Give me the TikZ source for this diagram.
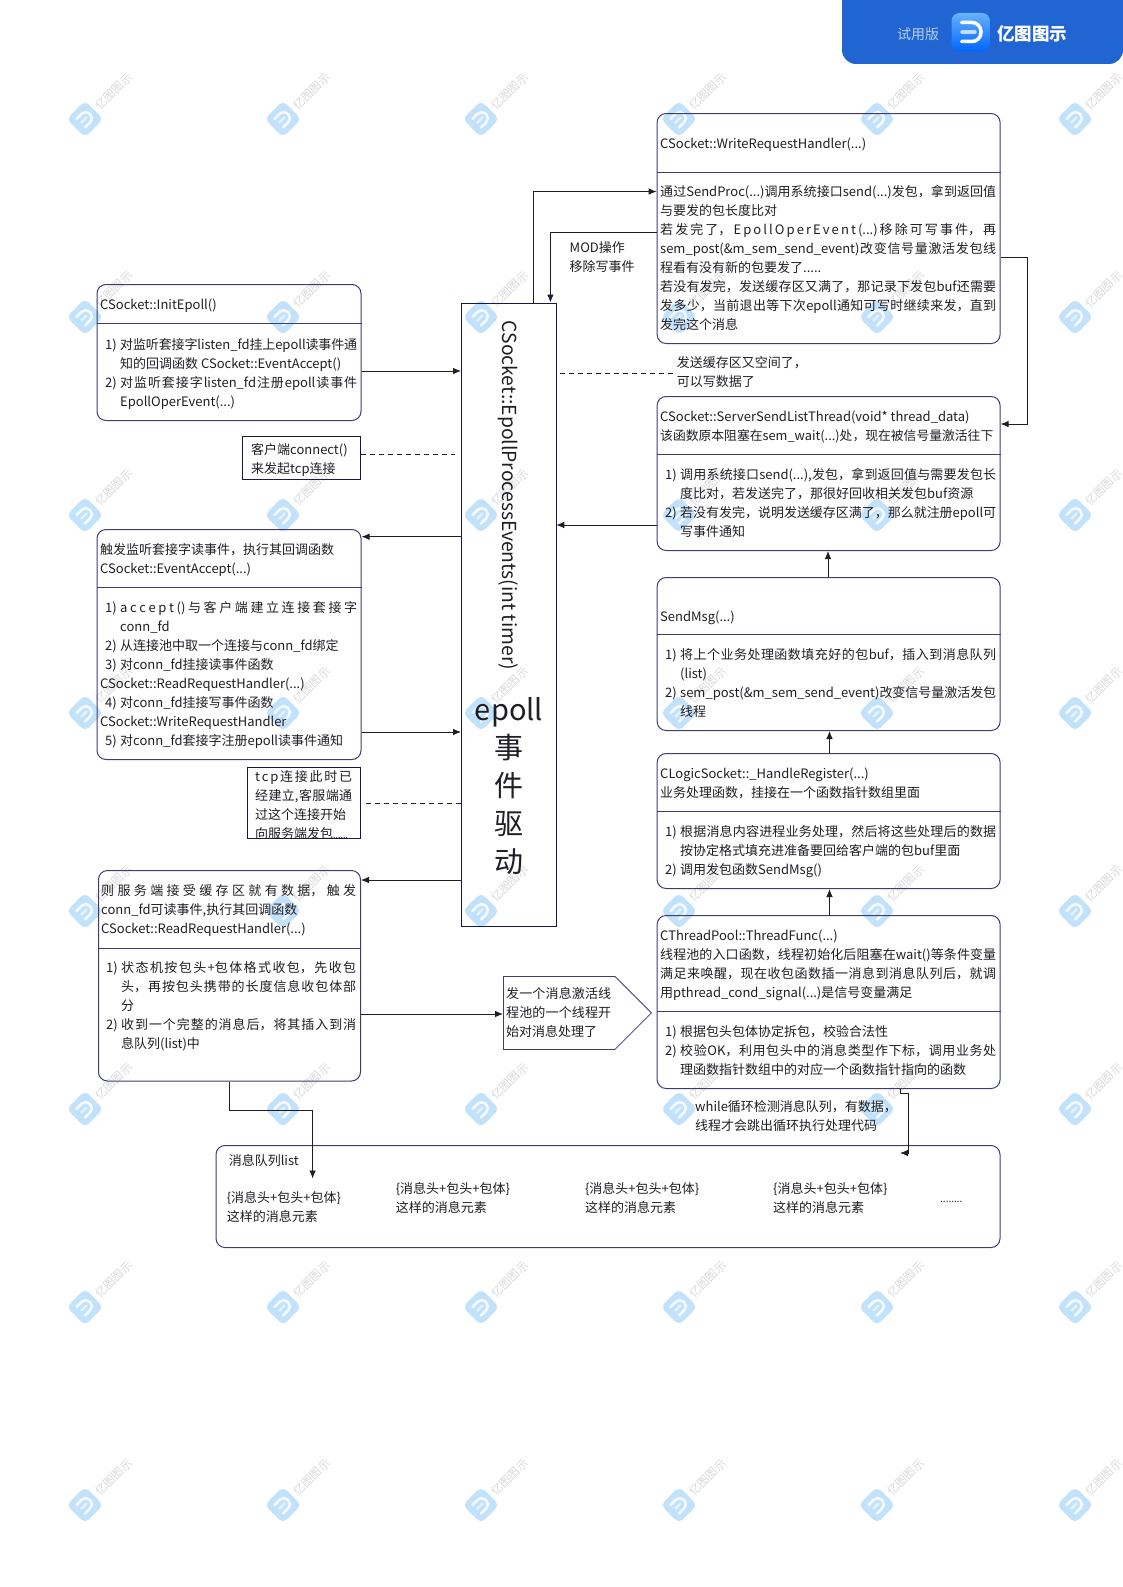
\documentclass[tikz,border=0pt]{standalone}
\usepackage{fontspec}
\usepackage{xcolor}
\setmainfont{Noto Sans CJK SC}
\usetikzlibrary{arrows.meta, shapes.symbols}
\XeTeXlinebreaklocale "zh"
\XeTeXlinebreakskip=0pt plus 1pt minus .3pt
\definecolor{ink}{HTML}{1E1E24}
\definecolor{cardline}{HTML}{3C3F6E}
\definecolor{boxline}{HTML}{14184E}
\definecolor{bannerblue}{HTML}{2065D1}
\definecolor{trialblue}{HTML}{B9CFF3}
\definecolor{markblue}{HTML}{42A5F5}
\definecolor{markgray}{HTML}{B8B8B8}
\newcommand{\cardfont}{\fontsize{13}{19}\selectfont\parindent=0pt\hyphenpenalty=10000\tolerance=10000\hbadness=10000}
\newcommand{\itm}[1]{\par\noindent\hangindent=20pt\hangafter=1\rule{0pt}{12pt}\hbox to 20pt{\hspace*{5pt}#1\hfil}\ignorespaces}
\newcommand{\ptx}{\par\noindent\rule{0pt}{12pt}\ignorespaces}
\newcommand{\gp}{\hskip 0pt plus 1pt\relax}

\begin{document}
\begin{tikzpicture}[x=1pt,y=-1pt]
\tikzstyle{card}=[draw=cardline, rounded corners=9pt, line width=1pt, anchor=north west, inner sep=0pt]
\tikzstyle{plainbox}=[draw=boxline, line width=.8pt, anchor=north west, inner sep=0pt]
\tikzstyle{wide}=[anchor=north west, yshift=7pt, inner sep=0pt, text=ink, text width=336pt, align=justify, font=\cardfont]
\tikzstyle{narrow}=[wide, text width=257pt]
\tikzstyle{divider}=[draw=cardline, line width=1pt]
\tikzstyle{flow}=[draw=ink, line width=.8pt, -{Latex[length=8pt,width=6.5pt]}]
\tikzstyle{dashline}=[draw=ink, line width=.8pt, dash pattern=on 5pt off 4pt]
\useasboundingbox (0,0) rectangle (1123,1587);

% watermark
\foreach \mx in {85,283,481,679,877,1075}
  \foreach \my in {119,317,515,713,911,1109,1307,1505}
  {
  \begin{scope}[shift={(\mx,\my)}]
  \fill[markblue, opacity=.32, rotate=45, rounded corners=6pt] (-13,-13) rectangle (13,13);
  \draw[white, opacity=.8, line width=2.6pt, rotate=45, rounded corners=5.5pt, line cap=round] (-6,-6) -- (7,-6) -- (7,6) -- (-6,6);
  \draw[white, opacity=.6, line width=2.4pt, rotate=45, line cap=round] (-5,0) -- (2,0);
  \node[rotate=45, text=markgray, opacity=.55, inner sep=0pt, font=\fontsize{11.5}{14}\selectfont] (wm-\mx-\my) at (28.8,-27.5) {亿图图示};
  \end{scope}
  }

% banner
\fill[bannerblue] (842,0) [rounded corners=14pt] -- (842,64) -- (1123,64) [sharp corners] -- (1123,0) -- cycle;
\shade[top color=blue!50!cyan!60!white, bottom color=blue!60!cyan, rounded corners=8pt] (951.5,13) rectangle (990,51);
\draw[white, line width=3.5pt, rounded corners=9pt, line cap=round] (961.5,22.5) -- (981,22.5) -- (981,41.5) -- (961.5,41.5);
\draw[white, opacity=.7, line width=3.5pt, line cap=round] (962,32) -- (975,32);
\node[text=trialblue, font=\fontsize{14}{16}\selectfont] (trial) at (918,34) {试用版};
\node[anchor=west, inner sep=0pt, text=white, font=\bfseries\fontsize{17.5}{20}\selectfont] (brand) at (997,34) {亿图图示};

% left column
\node[card, minimum width=264pt, minimum height=136pt] (initbox) at (96.5,284) {};
\draw[divider] (initbox.west |- 0,323) -- (initbox.east |- 0,323);
\node[narrow] (inittitle) at (100,297) {\ptx CSocket::InitEpoll()};
\node[narrow] (initbody) at (100,337) {\itm{1)}对监听套接字listen\_fd挂上epoll读事件通\linebreak 知的回调函数 CSocket::EventAccept()
\itm{2)}对监听套接字listen\_fd注册epoll读事件\linebreak EpollOperEvent(...)\par};

\node[plainbox, minimum width=118pt, minimum height=43pt] (clientbox) at (242,436) {};
\node[wide, text width=105pt] (clienttext) at (251,442) {\ptx 客户端connect()\ptx 来发起tcp连接};

\node[card, minimum width=264pt, minimum height=230pt] (acceptbox) at (96.5,529) {};
\draw[divider] (acceptbox.west |- 0,587) -- (acceptbox.east |- 0,587);
\node[narrow] (accepttitle) at (100,542) {\ptx 触发监听套接字读事件，执行其回调函数\ptx CSocket::EventAccept(...)};
\node[narrow] (acceptbody) at (100,600) {\itm{1)}a\gp c\gp c\gp e\gp p\gp t\gp ()与客户端建立连接套接字\linebreak conn\_fd
\itm{2)}从连接池中取一个连接与conn\_fd绑定
\itm{3)}对conn\_fd挂接读事件函数
\ptx CSocket::ReadRequestHandler(...)
\itm{4)}对conn\_fd挂接写事件函数
\ptx CSocket::WriteRequestHandler
\itm{5)}对conn\_fd套接字注册epoll读事件通知\par};

\node[plainbox, minimum width=113pt, minimum height=71pt] (tcpbox) at (247,767) {};
\node[wide, text width=97pt] (tcptext) at (255,769) {\ptx t\gp c\gp p\gp 连接此时已\linebreak 经建立,客服端通\linebreak 过这个连接开始\ptx\mbox{向服务端发包\fontsize{9}{19}\selectfont......}};

\node[card, minimum width=262pt, minimum height=210.5pt] (readbox) at (98,870) {};
\draw[divider] (readbox.west |- 0,948) -- (readbox.east |- 0,948);
\node[narrow, text width=255pt] (readtitle) at (101,883) {\ptx 则服务端接受缓存区就有数据，触发\linebreak conn\_fd可读事件,执行其回调函数\ptx CSocket::ReadRequestHandler(...)};
\node[narrow, text width=255pt] (readbody) at (101,960) {\itm{1)}状态机按包头+包体格式收包，先收包\linebreak 头，再按包头携带的长度信息收包体部\linebreak 分
\itm{2)}收到一个完整的消息后，将其插入到消\linebreak 息队列(list)中\par};

% epoll column
\node[plainbox, minimum width=94.5pt, minimum height=623.5pt] (epollbox) at (461,302.5) {};
\node[rotate=-90, text=ink, inner sep=0pt, font=\fontsize{19.3}{22}\selectfont] (eventname) at (508,495.5) {CSocket::EpollProcessEvents(int timer)};
\node[align=center, text=ink, inner sep=0pt, font=\fontsize{29}{38}\selectfont] (epollword) at (509,786) {epoll\\事\\件\\驱\\动};

\node[wide, text width=80pt] (modtext) at (569.5,240) {\ptx MOD操作\ptx 移除写事件};
\node[wide, text width=140pt] (spacetext) at (676.7,355) {\ptx 发送缓存区又空间了，\ptx 可以写数据了};

\node[draw=cardline, line width=.8pt, signal, signal to=east, signal pointer angle=90, inner sep=0pt, minimum width=148pt, minimum height=73pt, anchor=north west] (wakebox) at (503,976) {};
\node[wide, text width=105pt] (waketext) at (506,986.5) {\ptx 发一个消息激活线\linebreak 程池的一个线程开\linebreak 始对消息处理了};

% right column
\node[card, minimum width=343pt, minimum height=230pt] (writebox) at (656.6,113) {};
\draw[divider] (writebox.west |- 0,172) -- (writebox.east |- 0,172);
\node[wide] (writetitle) at (660,136) {\ptx CSocket::WriteRequestHandler(...)};
\node[wide] (writebody) at (660,184.7) {\ptx 通过SendProc(...)调用系统接口send(...)发包，拿到返回值\linebreak 与要发的包长度比对
\ptx 若发完了，E\gp p\gp o\gp l\gp l\gp O\gp p\gp e\gp r\gp E\gp v\gp e\gp n\gp t\gp (...)移除可写事件，再\linebreak sem\_post(\&m\_sem\_send\_event)改变信号量激活发包线\linebreak 程看有没有新的包要发了.....
\ptx 若没有发完，发送缓存区又满了，那记录下发包buf还需要\linebreak 发多少，当前退出等下次epoll通知可写时继续来发，直到\linebreak 发完这个消息};

\node[card, minimum width=343pt, minimum height=154pt] (sendbox) at (656.6,396) {};
\draw[divider] (sendbox.west |- 0,454) -- (sendbox.east |- 0,454);
\node[wide] (sendtitle) at (660,409) {\ptx CSocket::ServerSendListThread(void* thread\_data)\ptx\mbox{\fontsize{12.8}{19}\selectfont 该函数原本阻塞在sem\_wait(...)处，现在被信号量激活往下}};
\node[wide] (sendbody) at (660,467.5) {\itm{1)}调用系统接口send(...),发包，拿到返回值与需要发包长\linebreak 度比对，若发送完了，那很好回收相关发包buf资源
\itm{2)}若没有发完，说明发送缓存区满了，那么就注册epoll可\linebreak 写事件通知\par};

\node[card, minimum width=343pt, minimum height=153pt] (msgbox) at (656.6,577) {};
\draw[divider] (msgbox.west |- 0,634) -- (msgbox.east |- 0,634);
\node[wide] (msgtitle) at (660,609.5) {\ptx SendMsg(...)};
\node[wide] (msgbody) at (660,647) {\itm{1)}将上个业务处理函数填充好的包buf，插入到消息队列\linebreak (list)
\itm{2)}sem\_post(\&m\_sem\_send\_event)改变信号量激活发包\linebreak 线程\par};

\node[card, minimum width=343pt, minimum height=135pt] (logicbox) at (656.6,753) {};
\draw[divider] (logicbox.west |- 0,811) -- (logicbox.east |- 0,811);
\node[wide] (logictitle) at (660,766) {\ptx CLogicSocket::\_HandleRegister(...)\ptx 业务处理函数，挂接在一个函数指针数组里面};
\node[wide] (logicbody) at (660,824) {\itm{1)}根据消息内容进程业务处理，然后将这些处理后的数据\linebreak 按协定格式填充进准备要回给客户端的包buf里面
\itm{2)}调用发包函数SendMsg()\par};

\node[card, minimum width=343pt, minimum height=173pt] (poolbox) at (656.6,915) {};
\draw[divider] (poolbox.west |- 0,1011) -- (poolbox.east |- 0,1011);
\node[wide] (pooltitle) at (660,928) {\ptx CThreadPool::ThreadFunc(...)
\ptx 线程池的入口函数，线程初始化后阻塞在wait()等条件变量\linebreak 满足来唤醒，现在收包函数插一消息到消息队列后，就调\linebreak 用pthread\_cond\_signal(...)是信号变量满足};
\node[wide] (poolbody) at (660,1024) {\itm{1)}根据包头包体协定拆包，校验合法性
\itm{2)}校验OK，利用包头中的消息类型作下标，调用业务处\linebreak 理函数指针数组中的对应一个函数指针指向的函数\par};

\node[wide, text width=205pt] (whiletext) at (695,1099) {\ptx while循环检测消息队列，有数据，\ptx 线程才会跳出循环执行处理代码};

% message list
\node[card, minimum width=784pt, minimum height=102pt] (listbox) at (215.5,1145) {};
\node[wide, text width=120pt] (listtitle) at (228.6,1153.5) {\ptx 消息队列list};
\node[wide, text width=130pt] (itemone) at (226.6,1190) {\ptx \{消息头+包头+包体\}\ptx 这样的消息元素};
\node[wide, text width=130pt] (itemtwo) at (395.6,1181) {\ptx \{消息头+包头+包体\}\ptx 这样的消息元素};
\node[wide, text width=130pt] (itemthree) at (584.8,1181) {\ptx \{消息头+包头+包体\}\ptx 这样的消息元素};
\node[wide, text width=130pt] (itemfour) at (773,1181) {\ptx \{消息头+包头+包体\}\ptx 这样的消息元素};
\node[anchor=base west, inner sep=0pt, text=ink, font=\fontsize{10}{12}\selectfont] (itemdots) at (940,1202) {........};

% connectors
\coordinate (listdrop) at (312.6,1178.5);
\coordinate (listtop) at (900,1153);
\draw[flow] (initbox.east |- 0,371) -- (epollbox.west |- 0,371);
\draw[dashline, shorten >=6pt] (clientbox.east |- 0,454) -- (epollbox.west |- 0,454);
\draw[flow] (epollbox.west |- 0,536.7) -- (acceptbox.east |- 0,536.7);
\draw[flow] (acceptbox.east |- 0,732) -- (epollbox.west |- 0,732);
\draw[dashline, shorten <=5pt] (tcpbox.east |- 0,803) -- (epollbox.west |- 0,803);
\draw[flow] (epollbox.west |- 0,880) -- (readbox.east |- 0,880);
\draw[flow] (readbox.east |- 0,1014) -- (wakebox.west |- 0,1014);
\draw[flow] (readbox.south) -- (readbox.south |- 0,1110) -- (listdrop |- 0,1110) -- (listdrop);
\draw[flow] (epollbox.north -| 533,0) -- (533,191.5) -- (writebox.west |- 0,191.5);
\draw[flow] (writebox.west |- 0,232) -- (550.4,232) -- (epollbox.north -| 550.4,0);
\draw[dashline, shorten <=4pt] (epollbox.east |- 0,373) -- (spacetext.west |- 0,373);
\draw[flow] (sendbox.west |- 0,525) -- (epollbox.east |- 0,525);
\draw[flow] (writebox.east |- 0,257) -- (1027,257) -- (1027,424) -- (sendbox.east |- 0,424);
\draw[flow] (msgbox.north -| 828,0) -- (sendbox.south -| 828,0);
\draw[flow] (logicbox.north -| 829.5,0) -- (msgbox.south -| 829.5,0);
\draw[flow] (poolbox.north -| 829.5,0) -- (logicbox.south -| 829.5,0);
\draw[flow] (poolbox.south -| 900,0) -- (900,1093) -- (908,1093) -- (908,1153) -- (listtop);
\end{tikzpicture}
\end{document}
